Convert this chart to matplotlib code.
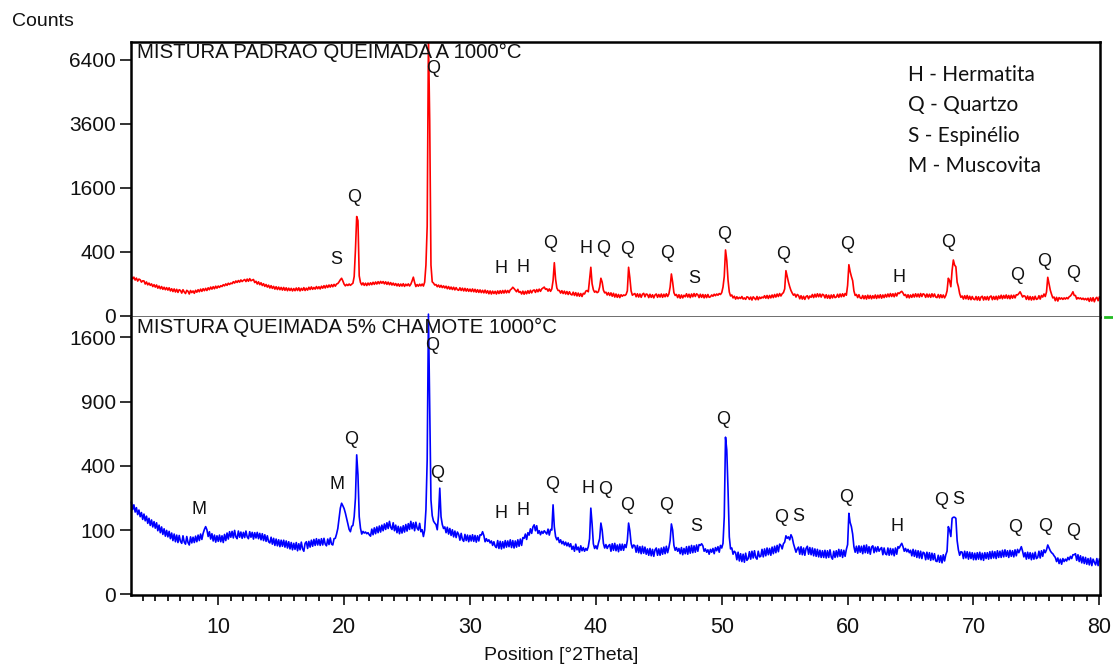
import numpy as np
import matplotlib.pyplot as plt
from matplotlib.lines import Line2D
from matplotlib.ticker import MultipleLocator

plt.rcParams["font.family"] = ["Liberation Sans", "DejaVu Sans"]

# scan grid: 3.1 .. 80.0 deg 2theta, step 0.1 (one line below = one degree)
two_theta = np.arange(31, 801) / 10.0

padrao_counts = [
    150, 132, 145, 124, 138, 117, 131, 126, 110, 119,
    118, 98, 111, 93, 104, 90, 99, 83, 94, 80,
    92, 74, 86, 71, 83, 68, 79, 66, 77, 64,
    76, 60, 71, 57, 70, 55, 68, 53, 66, 62,
    50, 66, 55, 48, 63, 58, 46, 62, 52, 60,
    49, 63, 54, 66, 56, 69, 58, 71, 61, 73,
    62, 76, 66, 80, 69, 82, 71, 85, 74, 86,
    78, 88, 83, 94, 87, 99, 90, 103, 95, 104,
    100, 113, 104, 118, 108, 121, 110, 125, 114, 122,
    128, 114, 131, 116, 134, 119, 124, 128, 107, 116,
    98, 112, 94, 106, 89, 100, 84, 95, 80, 91,
    75, 88, 73, 84, 69, 82, 67, 80, 66, 78,
    64, 78, 63, 76, 61, 74, 62, 73, 60, 72,
    61, 75, 62, 76, 60, 73, 63, 77, 62, 74,
    64, 79, 67, 81, 68, 78, 69, 83, 71, 82,
    70, 85, 74, 88, 75, 90, 78, 92, 80, 94,
    82, 96, 85, 98, 101, 112, 126, 137, 118, 97,
    87, 96, 89, 98, 90, 97, 103, 150, 420, 960,
    880, 155, 108, 93, 105, 90, 103, 89, 104, 92,
    106, 94, 109, 96, 111, 98, 113, 100, 115, 103,
    114, 99, 112, 96, 110, 94, 107, 92, 104, 90,
    101, 87, 99, 85, 98, 86, 100, 84, 97, 88,
    99, 86, 97, 118, 145, 108, 83, 95, 85, 97,
    87, 98, 86, 110, 250, 780, 7600, 3700, 250, 112,
    104, 92, 95, 82, 92, 79, 90, 77, 87, 75,
    85, 71, 83, 69, 80, 67, 79, 65, 77, 66,
    63, 76, 62, 74, 60, 73, 59, 71, 58, 69,
    57, 70, 56, 68, 54, 66, 53, 65, 52, 63,
    51, 64, 50, 61, 47, 60, 46, 59, 48, 58,
    46, 60, 48, 61, 49, 62, 50, 63, 51, 62,
    52, 65, 70, 79, 72, 64, 56, 68, 53, 57,
    46, 59, 45, 58, 47, 61, 49, 63, 51, 62,
    65, 53, 67, 56, 69, 58, 70, 75, 80, 68,
    71, 59, 70, 58, 70, 120, 274, 130, 75, 62,
    62, 50, 61, 48, 59, 46, 57, 44, 56, 45,
    42, 54, 40, 52, 38, 50, 37, 48, 36, 49,
    46, 59, 62, 56, 125, 229, 100, 66, 54, 59,
    52, 56, 80, 137, 110, 64, 51, 54, 42, 52,
    40, 51, 37, 49, 34, 46, 33, 44, 32, 43,
    37, 42, 40, 44, 60, 229, 140, 60, 41, 45,
    48, 35, 47, 34, 46, 33, 45, 49, 35, 46,
    44, 32, 45, 33, 43, 31, 42, 46, 33, 44,
    34, 46, 33, 45, 35, 47, 36, 46, 80, 170,
    110, 52, 40, 44, 32, 43, 30, 42, 31, 41,
    35, 47, 34, 45, 32, 46, 35, 48, 36, 47,
    43, 32, 45, 33, 44, 31, 43, 32, 44, 33,
    35, 42, 37, 45, 39, 46, 41, 48, 44, 52,
    80, 150, 422, 300, 124, 55, 38, 42, 31, 37,
    27, 35, 28, 33, 29, 36, 27, 31, 26, 35,
    33, 26, 34, 24, 35, 30, 25, 36, 25, 34,
    29, 34, 31, 39, 30, 40, 29, 40, 31, 42,
    32, 44, 34, 46, 36, 48, 38, 47, 52, 70,
    198, 150, 110, 82, 62, 50, 41, 46, 34, 44,
    40, 28, 39, 27, 37, 26, 36, 39, 28, 38,
    33, 44, 32, 45, 34, 47, 35, 46, 34, 45,
    42, 31, 43, 30, 41, 29, 42, 31, 43, 32,
    34, 45, 33, 46, 35, 47, 36, 48, 41, 90,
    254, 190, 150, 120, 60, 40, 44, 32, 43, 31,
    29, 40, 28, 39, 27, 41, 29, 40, 28, 39,
    30, 42, 29, 41, 31, 43, 30, 42, 32, 44,
    34, 46, 35, 48, 36, 47, 35, 49, 38, 51,
    48, 54, 58, 50, 40, 44, 32, 43, 31, 42,
    33, 45, 34, 47, 35, 46, 34, 48, 36, 47,
    44, 33, 46, 34, 45, 33, 47, 35, 46, 34,
    32, 44, 31, 43, 32, 42, 31, 40, 60, 137,
    120, 82, 200, 303, 250, 234, 110, 82, 48, 33,
    38, 27, 39, 28, 40, 26, 37, 25, 36, 27,
    25, 36, 24, 35, 23, 34, 37, 24, 35, 25,
    36, 24, 35, 38, 25, 36, 26, 37, 25, 38,
    29, 41, 28, 40, 30, 42, 29, 40, 28, 41,
    30, 41, 31, 43, 42, 48, 56, 45, 34, 39,
    37, 26, 38, 25, 36, 24, 35, 25, 37, 26,
    28, 39, 27, 40, 34, 46, 36, 55, 144, 100,
    64, 45, 31, 34, 22, 33, 21, 32, 27, 31,
    26, 31, 27, 32, 28, 35, 38, 45, 56, 40,
    40, 27, 32, 28, 31, 26, 30, 25, 29, 24,
    30, 20, 31, 21, 32, 19, 29, 33, 22, 34,
]

chamote_counts = [
    205, 174, 194, 164, 182, 154, 172, 146, 162, 136,
    156, 131, 148, 122, 140, 115, 134, 110, 128, 106,
    124, 98, 116, 92, 110, 87, 104, 82, 99, 80,
    96, 75, 91, 70, 88, 67, 85, 65, 84, 68,
    63, 83, 66, 61, 81, 65, 59, 80, 64, 79,
    65, 82, 67, 85, 70, 88, 73, 90, 102, 111,
    101, 81, 95, 74, 89, 69, 85, 66, 83, 68,
    85, 67, 83, 65, 87, 70, 91, 74, 95, 79,
    96, 77, 99, 80, 75, 97, 79, 94, 76, 93,
    78, 97, 80, 75, 95, 79, 93, 74, 92, 77,
    93, 75, 90, 72, 89, 70, 86, 68, 83, 67,
    64, 79, 61, 76, 58, 74, 57, 72, 55, 71,
    56, 71, 54, 69, 52, 67, 50, 65, 48, 63,
    49, 65, 46, 62, 48, 66, 50, 45, 63, 67,
    51, 68, 54, 71, 56, 73, 58, 75, 59, 73,
    58, 75, 59, 76, 61, 57, 74, 60, 77, 61,
    59, 75, 76, 88, 105, 140, 180, 201, 190, 178,
    160, 140, 120, 102, 95, 112, 115, 146, 224, 471,
    345, 146, 106, 88, 96, 91, 94, 89, 92, 86,
    82, 103, 86, 107, 89, 110, 92, 113, 94, 116,
    98, 120, 102, 124, 105, 129, 109, 102, 124, 98,
    116, 92, 112, 89, 110, 91, 114, 94, 118, 97,
    121, 102, 129, 104, 124, 98, 126, 106, 100, 122,
    95, 101, 81, 100, 173, 438, 1900, 839, 216, 150,
    130, 123, 118, 101, 150, 273, 146, 118, 105, 110,
    92, 109, 88, 105, 84, 101, 80, 97, 78, 94,
    87, 71, 90, 73, 68, 87, 70, 85, 67, 84,
    69, 86, 68, 84, 66, 83, 69, 86, 85, 95,
    84, 67, 75, 68, 72, 64, 69, 58, 67, 56,
    53, 70, 51, 68, 50, 67, 52, 70, 54, 69,
    55, 72, 53, 70, 52, 69, 54, 72, 56, 74,
    58, 78, 76, 88, 73, 92, 85, 104, 90, 110,
    117, 98, 114, 90, 98, 86, 96, 90, 98, 93,
    88, 103, 85, 102, 100, 194, 110, 81, 72, 78,
    65, 72, 62, 68, 59, 66, 57, 64, 55, 62,
    49, 56, 45, 61, 48, 54, 43, 57, 46, 53,
    45, 51, 47, 55, 75, 180, 120, 62, 51, 57,
    50, 63, 75, 123, 100, 63, 52, 60, 51, 57,
    60, 45, 62, 47, 63, 46, 59, 44, 61, 47,
    61, 47, 60, 53, 70, 123, 98, 63, 52, 59,
    57, 43, 58, 42, 55, 40, 56, 41, 54, 39,
    50, 37, 51, 36, 49, 35, 48, 52, 37, 50,
    37, 52, 39, 54, 40, 56, 42, 53, 70, 120,
    100, 58, 47, 53, 45, 51, 40, 53, 38, 51,
    40, 55, 39, 56, 41, 58, 42, 57, 43, 59,
    45, 60, 58, 62, 57, 45, 50, 43, 48, 39,
    49, 43, 51, 40, 53, 46, 55, 43, 58, 52,
    63, 146, 598, 505, 264, 80, 50, 52, 39, 45,
    42, 29, 43, 27, 40, 26, 39, 25, 41, 28,
    31, 44, 30, 45, 32, 46, 33, 30, 45, 34,
    35, 49, 34, 50, 36, 52, 38, 51, 37, 54,
    40, 56, 42, 58, 44, 61, 58, 50, 62, 66,
    83, 76, 80, 72, 86, 78, 62, 52, 43, 50,
    54, 39, 55, 38, 52, 37, 51, 56, 39, 53,
    38, 52, 36, 50, 35, 49, 34, 47, 33, 46,
    33, 47, 32, 46, 33, 48, 34, 30, 45, 33,
    46, 34, 49, 35, 48, 33, 47, 35, 49, 60,
    159, 125, 111, 88, 55, 43, 56, 41, 57, 43,
    56, 40, 58, 42, 59, 41, 55, 39, 54, 57,
    42, 54, 44, 55, 45, 50, 53, 38, 52, 40,
    38, 52, 37, 51, 38, 50, 36, 52, 39, 55,
    52, 58, 63, 55, 45, 51, 44, 49, 42, 47,
    36, 49, 35, 47, 33, 46, 32, 45, 31, 43,
    41, 29, 43, 30, 42, 28, 41, 29, 40, 27,
    26, 37, 25, 36, 24, 38, 27, 38, 45, 111,
    100, 81, 140, 144, 144, 140, 70, 48, 37, 44,
    43, 31, 45, 32, 44, 30, 43, 31, 42, 29,
    41, 29, 42, 30, 43, 29, 41, 28, 42, 31,
    42, 30, 44, 31, 45, 32, 44, 31, 46, 33,
    45, 33, 47, 34, 48, 35, 46, 33, 47, 35,
    46, 34, 48, 36, 49, 42, 48, 55, 45, 34,
    42, 30, 43, 31, 42, 29, 41, 30, 43, 31,
    33, 45, 32, 46, 35, 48, 42, 48, 59, 52,
    46, 42, 40, 36, 33, 26, 32, 23, 30, 22,
    31, 26, 30, 27, 33, 29, 35, 31, 38, 38,
    40, 28, 38, 26, 36, 24, 34, 23, 33, 22,
    31, 21, 32, 20, 30, 25, 21, 31, 20, 30,
]

padrao_title = "MISTURA PADRAO QUEIMADA A 1000°C"
chamote_title = "MISTURA QUEIMADA 5% CHAMOTE 1000°C"

padrao_ticks = [0, 400, 1600, 3600, 6400]
chamote_ticks = [0, 100, 400, 900, 1600]
position_ticks = [10, 20, 30, 40, 50, 60, 70, 80]

# phase markers: letter, 2theta, count level of the letter
padrao_phase = ["S", "Q", "Q", "H", "H", "Q", "H", "Q", "Q", "Q",
                "S", "Q", "Q", "Q", "H", "Q", "Q", "Q", "Q"]
padrao_phase_pos = [19.4, 20.8, 27.05, 32.5, 34.25, 36.4, 39.2, 40.6, 42.45, 45.7,
                    47.85, 50.15, 54.9, 60.0, 64.1, 67.95, 73.5, 75.6, 77.9]
padrao_phase_level = [311, 1369, 5950, 219, 229, 512, 444, 444, 431, 380,
                      132, 636, 360, 498, 144, 526, 156, 292, 176]

chamote_phase = ["M", "M", "Q", "Q", "Q", "H", "H", "Q", "H", "Q", "Q", "Q",
                 "S", "Q", "Q", "S", "Q", "H", "Q", "S", "Q", "Q", "Q"]
chamote_phase_pos = [8.5, 19.4, 20.55, 27.0, 27.4, 32.5, 34.2, 36.5, 39.35, 40.7, 42.5, 45.6,
                     47.95, 50.1, 54.7, 56.05, 59.9, 63.9, 67.45, 68.8, 73.3, 75.7, 77.9]
chamote_phase_level = [176, 290, 583, 1500, 355, 159, 169, 290, 273, 268, 190, 190,
                       113, 736, 142, 146, 228, 111, 213, 216, 109, 113, 95]

legend_lines = ["H - Hermatita", "Q - Quartzo", "S - Espinélio", "M - Muscovita"]

W, H = 1113, 668
fig = plt.figure(figsize=(W / 100, H / 100), dpi=100)
ax_top = fig.add_axes([131 / W, 1 - 317 / H, 969 / W, 275 / H])
ax_bot = fig.add_axes([131 / W, 1 - 595 / H, 969 / W, 278 / H])

# counts are shown on a square-root scale
ax_top.plot(two_theta, np.sqrt(padrao_counts), color="#ff0000", lw=1.2)
ax_bot.plot(two_theta, np.sqrt(chamote_counts), color="#0000ff", lw=1.2, clip_on=False)

ax_top.set_ylim(-0.4, 85.5)
ax_bot.set_ylim(-0.1, 43.15)

for ax, ticks in ((ax_top, padrao_ticks), (ax_bot, chamote_ticks)):
    ax.set_xlim(3.07, 80.05)
    ax.set_yticks(np.sqrt(ticks))
    ax.set_yticklabels([str(t) for t in ticks])
    ax.tick_params(axis="y", direction="out", length=8, width=1.2,
                   labelsize=15, pad=3, colors="#111111")
    for side in ("left", "right"):
        ax.spines[side].set_linewidth(1.8)

ax_top.spines["top"].set_linewidth(1.8)
ax_top.spines["bottom"].set_linewidth(1.2)
ax_top.spines["bottom"].set_color("#555555")
ax_top.tick_params(axis="x", bottom=False, labelbottom=False)

ax_bot.spines["top"].set_visible(False)
ax_bot.spines["bottom"].set_linewidth(1.8)
ax_bot.set_xticks(position_ticks)
ax_bot.xaxis.set_minor_locator(MultipleLocator(1))
ax_bot.tick_params(axis="x", which="major", direction="out", length=7, width=1.2,
                   labelsize=15.5, pad=9, colors="#111111")
ax_bot.tick_params(axis="x", which="minor", direction="out", length=4.5, width=1.2)

ax_top.text(0.006, 0.995, padrao_title, transform=ax_top.transAxes,
            ha="left", va="top", fontsize=14.7, color="#111111")
ax_bot.text(0.006, 0.995, chamote_title, transform=ax_bot.transAxes,
            ha="left", va="top", fontsize=14.7, color="#111111")

for ax, letters, pos, level in (
        (ax_top, padrao_phase, padrao_phase_pos, padrao_phase_level),
        (ax_bot, chamote_phase, chamote_phase_pos, chamote_phase_level)):
    for letter, x, y in zip(letters, pos, level):
        ax.text(x, np.sqrt(y), letter, ha="center", va="center",
                fontsize=13, color="#111111")

for i, line in enumerate(legend_lines):
    fig.text(908 / W, 1 - (75 + 30.5 * i) / H, line, ha="left", va="center",
             fontsize=15, family="Lato", color="#111111")

fig.text(12 / W, 1 - 21 / H, "Counts", ha="left", va="center", fontsize=14, color="#111111")
fig.text(561 / W, 1 - 656 / H, "Position [°2Theta]", ha="center", va="center",
         fontsize=14, color="#111111")

# small green marker at the right edge between the panels
fig.add_artist(Line2D([1105 / W, 1113 / W], [1 - 317 / H, 1 - 317 / H],
                      color="#22bb22", lw=2))

fig.savefig("out.png", dpi=100)
